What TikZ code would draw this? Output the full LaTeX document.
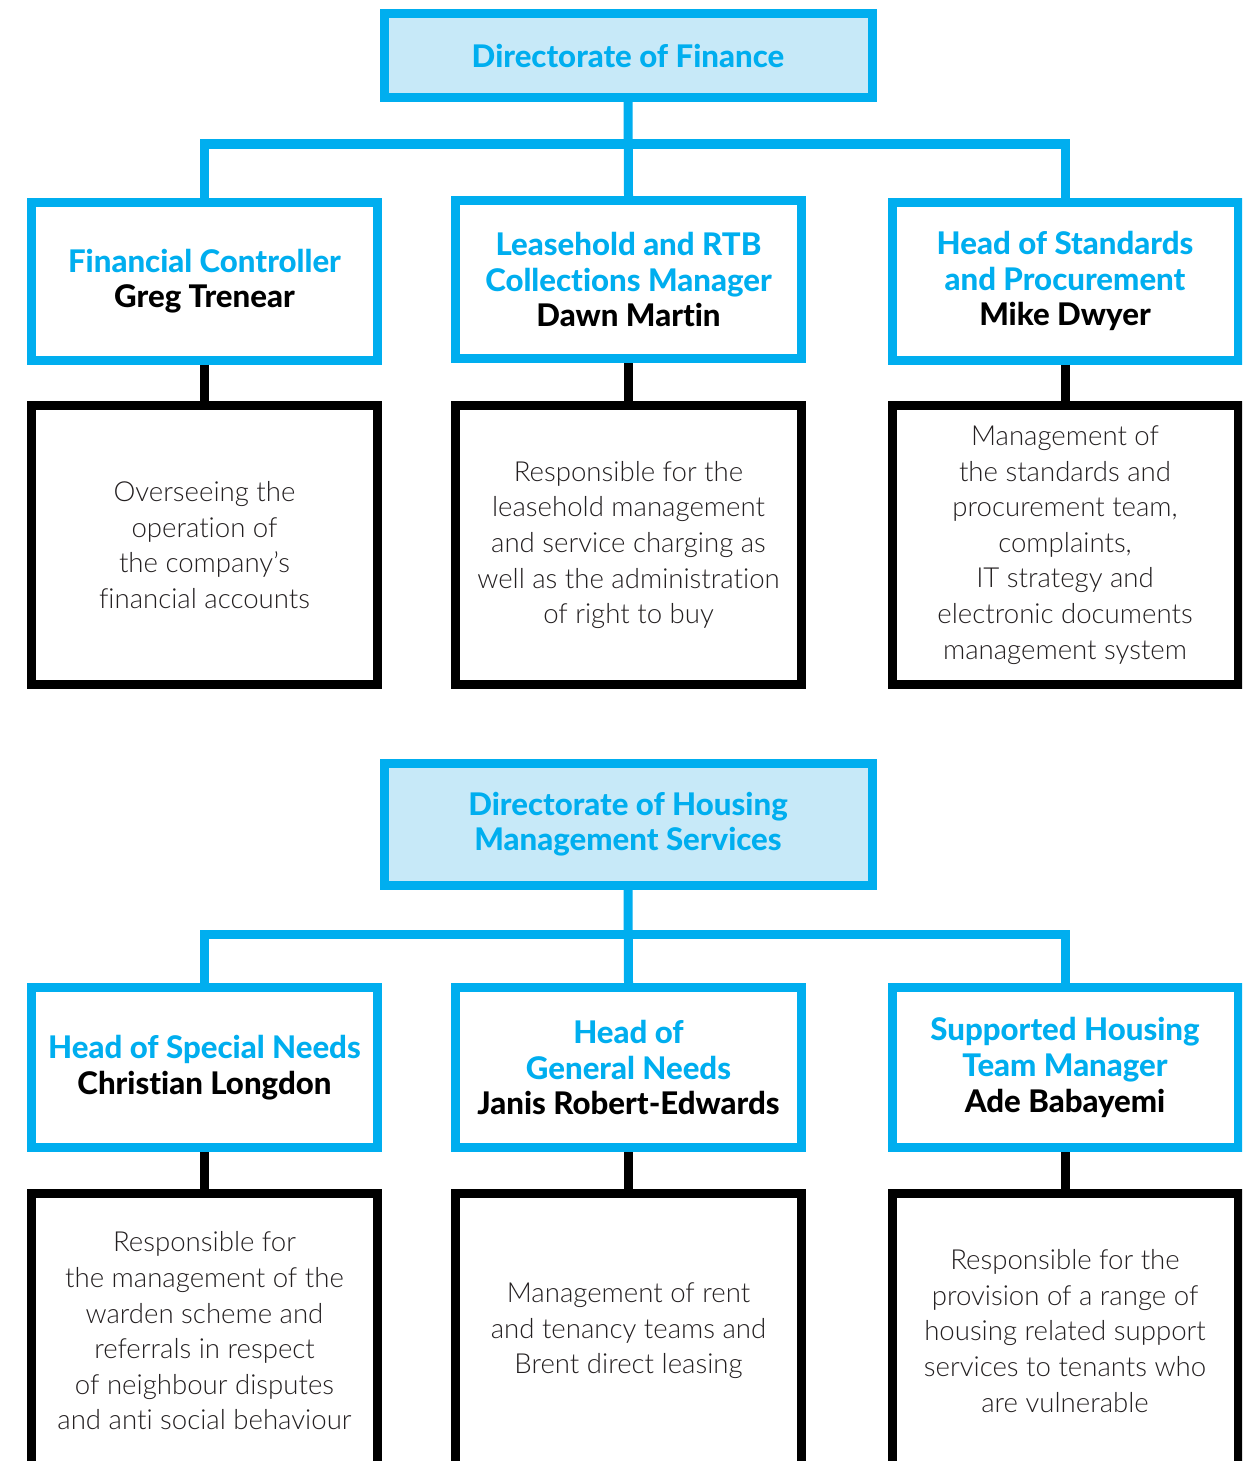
\documentclass[tikz,border=0pt]{standalone}
\usepackage{fontspec}
\setmainfont{Lato}
\newfontfamily\lightfont[Ligatures={NoCommon,NoContextual}]{Lato Light}
\newfontfamily\heavyfont[Ligatures={NoCommon,NoContextual}]{Lato Heavy}
\definecolor{cblue}{HTML}{00AEEF}
\definecolor{lblue}{HTML}{C7E9F8}
\definecolor{ink}{HTML}{231F20}
\tikzset{
  bl/.style={draw=cblue, line width=4.5pt},
  bk/.style={draw=black, line width=4.5pt},
  dirbox/.style={bl, fill=lblue, minimum width=244pt, inner sep=0pt, align=center,
    font=\heavyfont\fontsize{15.6}{17.6}\selectfont, text=cblue},
  rolebox/.style={bl, fill=white, minimum width=173pt, minimum height=79pt, inner sep=0pt, align=center,
    font=\heavyfont\fontsize{15.6}{17.8}\selectfont, text=cblue},
  descbox/.style={bk, fill=white, minimum width=173pt, inner sep=0pt, align=center,
    font=\lightfont\fontsize{13.8}{17.8}\selectfont, text=ink}
}
\begin{document}
\begin{tikzpicture}[x=0.5pt,y=-0.5pt]
\useasboundingbox (0,0) rectangle (1242,1461);
\clip (0,0) rectangle (1242,1461);
% ---------- Finance ----------
\node[dirbox, minimum height=42pt] (fin) at (628,55.5) {Directorate of Finance};
\node[rolebox] (fc) at (204.5,281) {Financial Controller\\\textcolor{black}{Greg Trenear}};
\node[rolebox] (lr) at (628.5,279.5) {Leasehold and RTB\\Collections Manager\\\textcolor{black}{Dawn Mart\kern0pt in}};
\node[rolebox] (sp) at (1065,281) {Head of Standards\\and Procurement\\\textcolor{black}{Mike Dwyer}};
\coordinate (finbar) at (628.5,144);
\draw[bl] (fc.north) |- (finbar) -| (sp.north);
\draw[bl] (fin.south) -- (lr.north);
\node[descbox, minimum height=139.5pt] (fcd) at (204.5,545) {Overseeing the\\operation of\\the company’s\\financial accounts};
\node[descbox, minimum height=139.5pt] (lrd) at (628.5,545) {Responsible for the\\leasehold management\\and service charging as\\well as the administration\\of right to buy};
\node[descbox, minimum height=139.5pt] (spd) at (1065,545) {Management of\\the standards and\\procurement team,\\complaints,\\IT strategy and\\electronic documents\\management system};
\draw[bk] (fc.south) -- (fcd.north);
\draw[bk] (lr.south) -- (lrd.north);
\draw[bk] (sp.south) -- (spd.north);
% ---------- Housing ----------
\node[dirbox, minimum height=61pt] (hms) at (628,824.5) {Directorate of Housing\\Management Services};
\node[rolebox, minimum height=80pt] (sn) at (204.5,1067.5) {Head of Special Needs\\\textcolor{black}{Christ\kern0pt ian Longdon}};
\node[rolebox, minimum height=80pt] (gn) at (628.5,1067.5) {Head of\\General Needs\\\textcolor{black}{Janis Robert-Edwards}};
\node[rolebox, minimum height=80pt] (sh) at (1065,1067.5) {Supported Housing\\Team Manager\\\textcolor{black}{Ade Babayemi}};
\coordinate (hmsbar) at (628.5,934);
\draw[bl] (sn.north) |- (hmsbar) -| (sh.north);
\draw[bl] (hms.south) -- (gn.north);
\node[descbox, minimum height=137.5pt] (snd) at (204.5,1331) {Responsible for\\the management of the\\warden scheme and\\referrals in respect\\of neighbour disputes\\and anti social behaviour};
\node[descbox, minimum height=137.5pt] (gnd) at (628.5,1331) {Management of rent\\and tenancy teams and\\Brent direct leasing};
\node[descbox, minimum height=137.5pt] (shd) at (1065,1331) {Responsible for the\\provision of a range of\\housing related support\\services to tenants who\\are vulnerable};
\draw[bk] (sn.south) -- (snd.north);
\draw[bk] (gn.south) -- (gnd.north);
\draw[bk] (sh.south) -- (shd.north);
\end{tikzpicture}
\end{document}
